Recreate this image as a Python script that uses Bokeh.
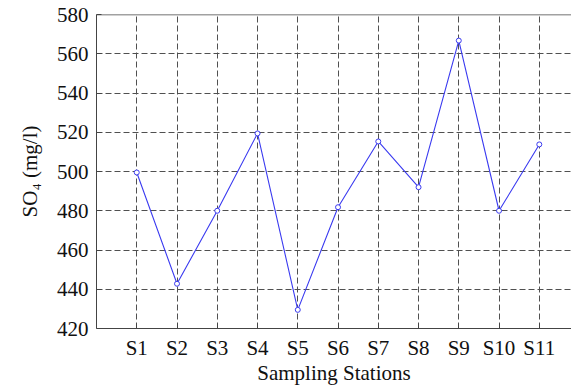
from bokeh.plotting import figure
from bokeh.models import FixedTicker, Span, Range1d
from bokeh.embed import file_html
from bokeh.resources import INLINE

stations = ["S1", "S2", "S3", "S4", "S5", "S6", "S7", "S8", "S9", "S10", "S11"]
so4 = [499.5, 442.8, 480.0, 519.4, 429.5, 481.8, 515.3, 492.0, 566.7, 480.0, 513.8]
y_ticks = [420, 440, 460, 480, 500, 520, 540, 560, 580]

xs = list(range(1, len(stations) + 1))

p = figure(width=571, height=387, output_backend="svg", toolbar_location=None,
           x_range=Range1d(0, 11.8), y_range=Range1d(420, 580),
           min_border_left=96, min_border_top=14, min_border_bottom=59, min_border_right=0)
p.outline_line_color = None
p.background_fill_color = "white"
p.border_fill_color = "white"

p.line(xs, so4, line_color="#3a3af0", line_width=1.1)
p.scatter(xs, so4, marker="circle", size=5, fill_color="white", line_color="#3a3af0", line_width=1)

font = "'Liberation Serif', 'Times New Roman', serif"
for ax in (p.xaxis[0], p.yaxis[0]):
    ax.axis_line_color = "#444444"
    ax.major_tick_line_color = "#444444"
    ax.major_tick_in = 5
    ax.major_tick_out = 0
    ax.minor_tick_line_color = None
    ax.major_label_text_font = font
    ax.major_label_text_font_size = "21px"
    ax.major_label_text_color = "#111111"
    ax.axis_label_text_font = font
    ax.axis_label_text_font_size = "21px"
    ax.axis_label_text_font_style = "normal"
    ax.axis_label_text_color = "#111111"

p.xaxis.ticker = FixedTicker(ticks=xs)
p.xaxis.major_label_overrides = {x: s for x, s in zip(xs, stations)}
p.xaxis.axis_label = "Sampling Stations"
p.xaxis.major_label_standoff = 7
p.xaxis.axis_label_standoff = -2

p.yaxis.ticker = FixedTicker(ticks=y_ticks)
p.yaxis.axis_label = "SO\u2084 (mg/l)"
p.yaxis.major_label_standoff = 8
p.yaxis.axis_label_standoff = 12

p.xgrid.ticker = FixedTicker(ticks=xs)
p.ygrid.ticker = FixedTicker(ticks=y_ticks)
for g in (p.xgrid[0], p.ygrid[0]):
    g.grid_line_color = "#505050"
    g.grid_line_dash = "6 3"
    g.grid_line_width = 1

p.add_layout(Span(location=580, dimension="width", line_color="#444444", line_width=1.5))

open("out.html", "w").write(file_html(p, INLINE))
